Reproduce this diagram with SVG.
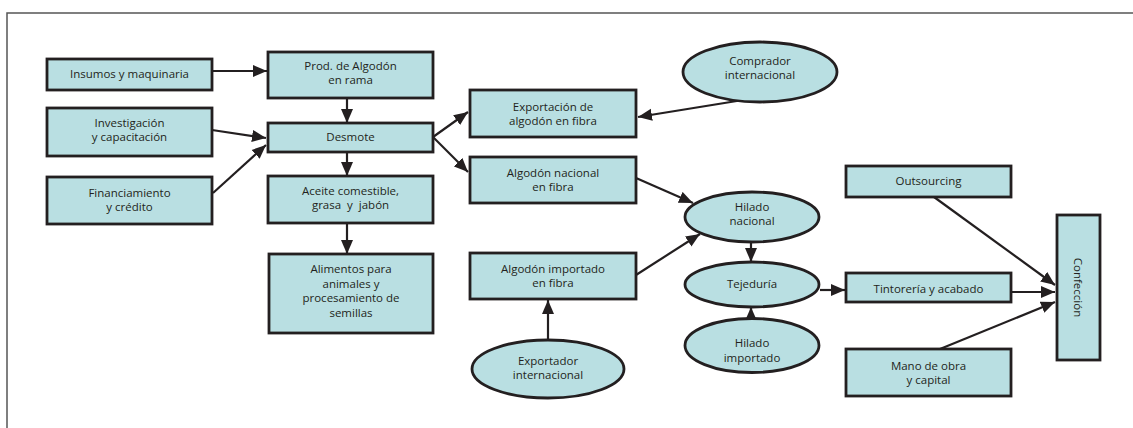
<svg xmlns="http://www.w3.org/2000/svg" width="1133" height="428" viewBox="0 0 1133 428">
<style>
.b{fill:#b9dfe2;stroke:#231f20;stroke-width:2.8}
.t{font-family:"Open Sans","Liberation Sans",sans-serif;font-size:11.5px;fill:#231f20;text-anchor:middle}
.c{stroke:#231f20;stroke-width:2.2;fill:none;marker-end:url(#ah)}
</style>
<defs>
<marker id="ah" markerUnits="userSpaceOnUse" markerWidth="15" markerHeight="13" refX="14" refY="6" orient="auto" viewBox="0 0 15 12">
<path d="M0,0 L14,6 L0,12 z" fill="#231f20"/>
</marker>
</defs>
<rect width="1133" height="428" fill="#fff"/>
<path d="M7,428 V13 H1133" stroke="#555" stroke-width="1.5" fill="none"/>
<g id="connectors">
<line class="c" x1="212" y1="71" x2="267" y2="71"/>
<line class="c" x1="212" y1="130" x2="266" y2="138"/>
<line class="c" x1="213" y1="193" x2="266" y2="145"/>
<line class="c" x1="347" y1="98" x2="347" y2="123"/>
<line class="c" x1="347" y1="152" x2="347" y2="176"/>
<line class="c" x1="347" y1="223" x2="347" y2="254"/>
<line class="c" x1="433" y1="137" x2="468" y2="112"/>
<line class="c" x1="433" y1="137" x2="468" y2="172"/>
<line class="c" x1="743" y1="100" x2="638" y2="117"/>
<line class="c" x1="636" y1="178" x2="693" y2="203"/>
<line class="c" x1="636" y1="275" x2="700" y2="234"/>
<line class="c" x1="548" y1="340" x2="548" y2="300"/>
<line class="c" x1="751" y1="242" x2="751" y2="262"/>
<line class="c" x1="751" y1="318" x2="751" y2="307"/>
<line class="c" x1="820" y1="290" x2="845" y2="290"/>
<line class="c" x1="934" y1="197" x2="1055" y2="285"/>
<line class="c" x1="1008" y1="292" x2="1055" y2="292"/>
<line class="c" x1="940" y1="349" x2="1055" y2="302"/>
</g>
<g id="insumos"><rect class="b" x="47" y="59" width="165" height="31"/><text class="t" x="129.5" y="78">Insumos y maquinaria</text></g>
<g id="investigacion"><rect class="b" x="47" y="108" width="165" height="48"/><text class="t" x="129.5" y="127">Investigación</text><text class="t" x="129.5" y="141">y capacitación</text></g>
<g id="financiamiento"><rect class="b" x="47" y="177" width="165" height="47"/><text class="t" x="129.5" y="197">Financiamiento</text><text class="t" x="129.5" y="211">y crédito</text></g>
<g id="prod"><rect class="b" x="268" y="52" width="165" height="46"/><text class="t" x="350.5" y="70">Prod. de Algodón</text><text class="t" x="350.5" y="84">en rama</text></g>
<g id="desmote"><rect class="b" x="268" y="123" width="165" height="29"/><text class="t" x="350.5" y="141">Desmote</text></g>
<g id="aceite"><rect class="b" x="268" y="176" width="165" height="47"/><text class="t" x="350.5" y="195">Aceite comestible,</text><text class="t" x="350.5" y="209" xml:space="preserve">grasa  y  jabón</text></g>
<g id="alimentos"><rect class="b" x="269" y="254" width="164" height="79"/><text class="t" x="351" y="273">Alimentos para</text><text class="t" x="351" y="287.5">animales y</text><text class="t" x="351" y="302">procesamiento de</text><text class="t" x="351" y="316.5">semillas</text></g>
<g id="exportacion"><rect class="b" x="470" y="90" width="166" height="47"/><text class="t" x="553" y="111">Exportación de</text><text class="t" x="553" y="125">algodón en fibra</text></g>
<g id="nacional"><rect class="b" x="470" y="157" width="166" height="46"/><text class="t" x="553" y="177">Algodón nacional</text><text class="t" x="553" y="191">en fibra</text></g>
<g id="importado"><rect class="b" x="470" y="253" width="166" height="46"/><text class="t" x="553" y="273">Algodón importado</text><text class="t" x="553" y="287">en fibra</text></g>
<g id="comprador"><ellipse class="b" cx="760" cy="72" rx="77" ry="30"/><text class="t" x="760" y="65">Comprador</text><text class="t" x="760" y="79">internacional</text></g>
<g id="exportador"><ellipse class="b" cx="548" cy="369" rx="76" ry="29"/><text class="t" x="548" y="365">Exportador</text><text class="t" x="548" y="379">internacional</text></g>
<g id="hiladonac"><ellipse class="b" cx="752" cy="217" rx="67" ry="25"/><text class="t" x="752" y="211">Hilado</text><text class="t" x="752" y="225">nacional</text></g>
<g id="tejeduria"><ellipse class="b" cx="752" cy="284.5" rx="67" ry="22.5"/><text class="t" x="752" y="288">Tejeduría</text></g>
<g id="hiladoimp"><ellipse class="b" cx="752" cy="345.5" rx="67" ry="27"/><text class="t" x="752" y="347">Hilado</text><text class="t" x="752" y="362">importado</text></g>
<g id="outsourcing"><rect class="b" x="846" y="166" width="165" height="31"/><text class="t" x="928.5" y="185">Outsourcing</text></g>
<g id="tintoreria"><rect class="b" x="846" y="273" width="165" height="29"/><text class="t" x="928.5" y="293">Tintorería y acabado</text></g>
<g id="mano"><rect class="b" x="846" y="349" width="165" height="47"/><text class="t" x="928.5" y="370">Mano de obra</text><text class="t" x="928.5" y="384">y capital</text></g>
<g id="confeccion"><rect class="b" x="1057" y="215" width="43" height="145"/><text class="t" transform="translate(1074,287.5) rotate(90)" x="0" y="0">Confección</text></g>
</svg>
